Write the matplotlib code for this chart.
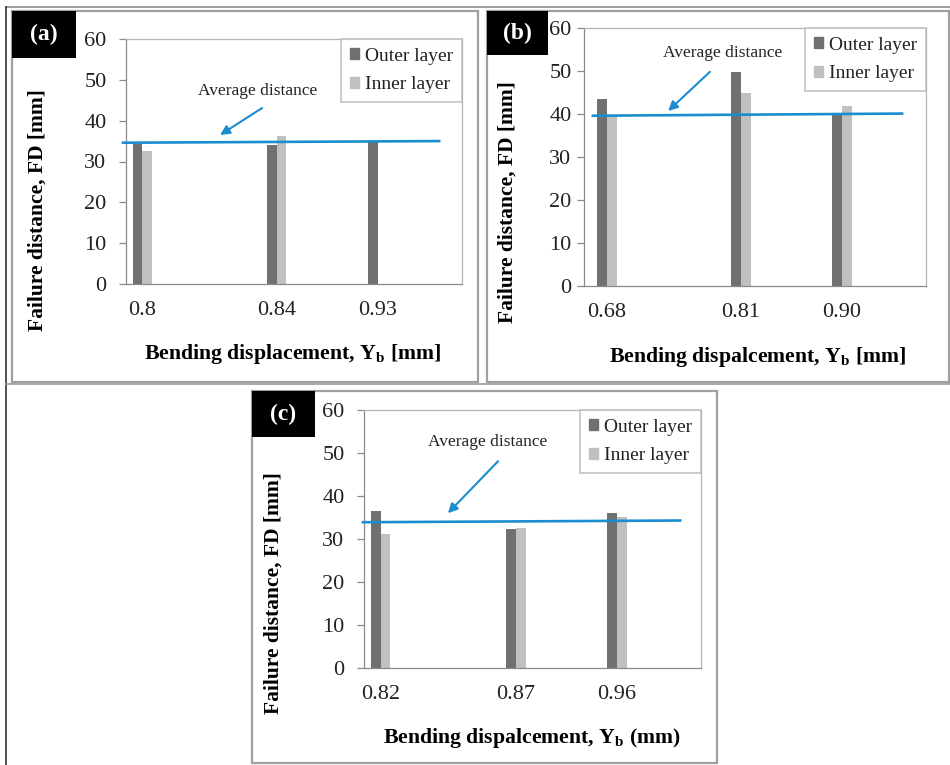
import matplotlib
matplotlib.use('Agg')
import matplotlib.pyplot as plt
from matplotlib.patches import Rectangle, Patch
from matplotlib.lines import Line2D

plt.rcParams['font.family'] = ['Liberation Serif', 'DejaVu Serif']
plt.rcParams['mathtext.fontset'] = 'custom'
plt.rcParams['mathtext.rm'] = 'Liberation Serif'
plt.rcParams['mathtext.bf'] = 'Liberation Serif:bold'
plt.rcParams['mathtext.it'] = 'Liberation Serif:italic'

# data
labels_a = ['0.8', '0.84', '0.93']
outer_a = [34.3, 34.1, 34.9]
inner_a = [32.6, 36.3, 0.0]
avg_a = [34.6, 35.0]

labels_b = ['0.68', '0.81', '0.90']
outer_b = [43.4, 49.7, 40.2]
inner_b = [39.5, 44.8, 41.9]
avg_b = [39.6, 40.1]

labels_c = ['0.82', '0.87', '0.96']
outer_c = [36.4, 32.4, 36.0]
inner_c = [31.2, 32.6, 35.2]
avg_c = [33.9, 34.3]

OUTER = '#707070'
INNER = '#c0c0c0'
BLUE = '#1a8ccf'
GRID = '#b4b4b4'

W, H = 950, 765
fig = plt.figure(figsize=(W / 100, H / 100), dpi=100)


def fbox(l, t, r, b):
    return [l / W, 1 - b / H, (r - l) / W, (b - t) / H]


def fline(x0, y0, x1, y1, color, lw):
    fig.add_artist(Line2D([x0 / W, x1 / W], [1 - y0 / H, 1 - y1 / H],
                          transform=fig.transFigure, color=color, lw=lw))


# page frame
fline(6, 7, 950, 7, '#8c8c8c', 1.2)
fline(6, 7, 6, 765, '#333333', 1.2)
fline(6, 384, 950, 384, '#9a9a9a', 1.2)


def panel(box, tag_box, tag, ax_box, labels, outer, inner, avg, pos,
          line_x, arrow, xlabel, ylab_xy, xlab_xy, ypad):
    l, t, r, b = box
    fig.add_artist(Rectangle((l / W, 1 - b / H), (r - l) / W, (b - t) / H,
                             transform=fig.transFigure, fill=False,
                             ec='#a0a0a0', lw=1.6))
    tl, tt, tr, tb = tag_box
    fig.add_artist(Rectangle((tl / W, 1 - tb / H), (tr - tl) / W, (tb - tt) / H,
                             transform=fig.transFigure, fc='black', ec='none'))
    fig.text((tl + tr) / 2 / W, 1 - (tt + tb) / 2 / H, tag, color='white',
             fontsize=17, fontweight='bold', ha='center', va='center')

    ax = fig.add_axes(fbox(*ax_box))
    w = 0.0285
    ax.bar([p - w / 2 for p in pos], outer, width=w, color=OUTER,
           label='Outer layer', zorder=2)
    ax.bar([p + w / 2 for p in pos], inner, width=w, color=INNER,
           label='Inner layer', zorder=2)
    ax.plot(line_x, avg, color=BLUE, lw=1.9, zorder=3, clip_on=False)

    (hx, hy), (sx, sy), (tx, ty) = arrow
    ax.annotate('', xy=(hx, hy), xytext=(sx, sy),
                arrowprops=dict(arrowstyle='-|>', color=BLUE, lw=1.5,
                                mutation_scale=14, shrinkA=0, shrinkB=0))
    ax.text(tx, ty, 'Average distance', fontsize=12.5, ha='center',
            va='center', color='#222222')

    ax.set_xlim(0, 1)
    ax.set_ylim(0, 60)
    ax.set_yticks(range(0, 61, 10))
    ax.set_xticks(pos)
    ax.set_xticklabels(labels)
    ax.tick_params(axis='x', length=0, pad=12, labelsize=16, colors='#222222')
    ax.tick_params(axis='y', length=5, width=0.9, color='#8a8a8a', pad=ypad,
                   labelsize=16, labelcolor='#222222')
    for s in ['top', 'right']:
        ax.spines[s].set_color(GRID)
        ax.spines[s].set_linewidth(0.9)
    for s in ['left', 'bottom']:
        ax.spines[s].set_color('#8a8a8a')
        ax.spines[s].set_linewidth(0.9)

    ax.set_ylabel('Failure distance, FD [mm]', fontsize=15.5, fontweight='bold')
    ax.yaxis.set_label_coords(*ylab_xy)
    ax.set_xlabel(xlabel, fontsize=15.7, fontweight='bold')
    ax.xaxis.set_label_coords(*xlab_xy)

    handles = [Patch(color=OUTER, label='Outer layer'),
               Patch(color=INNER, label='Inner layer')]
    leg = ax.legend(handles=handles, loc='upper right', bbox_to_anchor=(1, 1),
                    borderaxespad=0, fontsize=14, frameon=True, fancybox=False,
                    handlelength=0.5, handleheight=0.5, handletextpad=0.3,
                    labelspacing=0.6, borderpad=0.45, edgecolor=GRID)
    leg.get_frame().set_linewidth(1.2)
    for txt in leg.get_texts():
        txt.set_color('#222222')
    return ax


panel((12, 11, 478, 382), (12, 11, 76, 58), '(a)', (126, 39, 462, 284),
      labels_a, outer_a, inner_a, avg_a, [0.048, 0.449, 0.750],
      [-0.009, 0.932],
      ((0.28, 36.5), (0.405, 43.1), (0.393, 47.3)),
      r'Bending displacement, $\mathbf{Y_b}$ [mm]',
      (-0.232, 0.30), (0.497, -0.237), 9)

panel((487, 11, 949, 382), (487, 11, 548, 55), '(b)', (584, 28, 926, 286),
      labels_b, outer_b, inner_b, avg_b, [0.067, 0.459, 0.754],
      [0.026, 0.930],
      ((0.246, 40.7), (0.368, 49.8), (0.406, 54.2)),
      r'Bending dispalcement, $\mathbf{Y_b}$ [mm]',
      (-0.193, 0.326), (0.509, -0.229), 4)

panel((252, 391, 717, 763), (252, 391, 315, 437), '(c)', (364, 410, 701, 668),
      labels_c, outer_c, inner_c, avg_c, [0.050, 0.451, 0.751],
      [-0.003, 0.938],
      ((0.249, 36.0), (0.398, 48.1), (0.368, 52.6)),
      r'Bending dispalcement, $\mathbf{Y_b}$ (mm)',
      (-0.240, 0.29), (0.499, -0.225), 9)

fig.savefig('out.png', dpi=100)
